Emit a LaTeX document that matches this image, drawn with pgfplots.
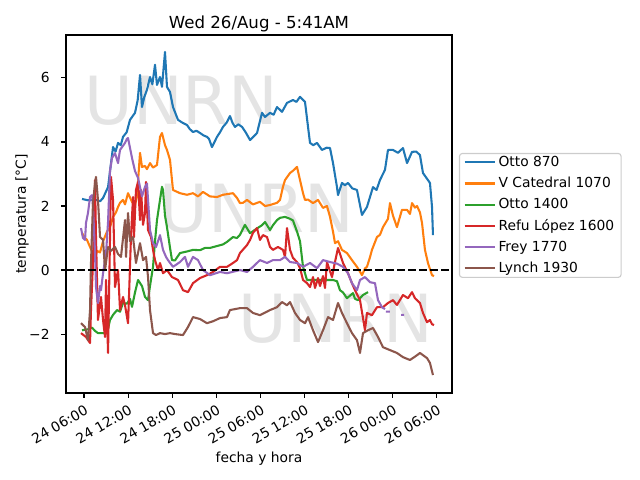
\documentclass[border=0pt]{standalone}
\usepackage{fontspec}
\setmainfont{DejaVu Sans}
\usepackage{pgfplots}
\pgfplotsset{compat=1.18}
\definecolor{c0}{HTML}{1F77B4}
\definecolor{c1}{HTML}{FF7F0E}
\definecolor{c2}{HTML}{2CA02C}
\definecolor{c3}{HTML}{D62728}
\definecolor{c4}{HTML}{9467BD}
\definecolor{c5}{HTML}{8C564B}
\definecolor{wm}{RGB}{228,228,228}
\definecolor{lgframe}{RGB}{204,204,204}
\begin{document}
\begin{tikzpicture}
\begin{axis}[
  at={(47.52bp,62.64bp)}, anchor=south west,
  scale only axis, width=277.92bp, height=257.76bp,
  xmin=3.55, xmax=56.07, ymin=-3.84, ymax=7.34,
  set layers,
  axis line style={line width=0.8pt},
  tick align=outside, major tick length=3.5bp,
  xtick pos=left, ytick pos=left,
  tick style={black, line width=0.8pt},
  xtick={6,12,18,24,30,36,42,48,54},
  xticklabels={24 06:00,24 12:00,24 18:00,25 00:00,25 06:00,25 12:00,25 18:00,26 00:00,26 06:00},
  ytick={-2,0,2,4,6},
  yticklabels={−2,0,2,4,6},
  ticklabel style={font=\fontsize{10}{12}\selectfont},
  xticklabel style={xshift=0bp, yshift=-4.5bp, rotate=30, anchor=north east, inner sep=0pt},
  yticklabel style={xshift=-8.1bp, anchor=east, inner sep=0pt},
  every axis title shift=0pt,
  title={Wed 26/Aug - 5:41AM},
  title style={at={(axis description cs:0.5,1)}, anchor=base, yshift=4.4bp, font=\fontsize{12}{14}\selectfont},
  xlabel={fecha y hora},
  xlabel style={at={(axis description cs:0.5,0)}, anchor=base, yshift=-49.7bp, font=\fontsize{10}{12}\selectfont},
  ylabel={temperatura [°C]},
  ylabel style={at={(axis description cs:-0.1038,0.5)}, anchor=base, font=\fontsize{10}{12}\selectfont},
  legend style={at={(1.018,0.496)}, anchor=west, draw=lgframe, line width=0.8pt, rounded corners=2pt,
    font=\fontsize{10}{12}\selectfont, inner xsep=3bp, inner ysep=0bp, row sep=2.2bp},
  legend cell align=left,
  legend image code/.code={\draw[#1, line width=1.5pt] (0bp,0bp) -- (21.6bp,0bp);},
  every axis plot/.append style={line width=1.5pt, line join=round},
]
\pgfplotsextra{%
\begin{pgfonlayer}{axis background}
\node[anchor=base, text=wm, font=\fontsize{48}{48}\selectfont] at (axis cs:19.27,4.53) {UNRN};
\node[anchor=base, text=wm, font=\fontsize{48}{48}\selectfont] at (axis cs:29.54,1.16) {UNRN};
\node[anchor=base, text=wm, font=\fontsize{48}{48}\selectfont] at (axis cs:40.29,-2.25) {UNRN};
\end{pgfonlayer}}

% Otto 870
\addplot[c0] coordinates {
(5.73,2.22) (6.5,2.18) (7.50,2.20) (8.2,2.15) (8.59,2.25) (9.27,2.59) (9.6,3.2) (9.95,3.84) (10.3,3.7)
(10.63,3.97) (11.0,3.9) (11.31,4.16) (11.8,4.3) (12.26,4.69) (12.94,4.91) (13.3,5.3) (13.62,6.09) (13.89,5.09)
(14.2,5.4) (14.57,5.63) (14.98,6.03) (15.3,5.8) (15.66,6.41) (15.93,5.78) (16.34,6.03)
(16.61,5.72) (17.02,6.81) (17.29,5.72) (17.70,5.56) (18.11,5.09) (18.79,4.69) (19.4,4.6)
(20.01,4.53) (20.4,4.4) (20.83,4.31) (21.3,4.35) (21.78,4.28) (22.3,4.2) (22.73,4.16) (23.0,4.1) (23.41,3.84) (24.10,4.16)
(24.5,4.3) (24.91,4.47) (25.4,4.6) (25.86,4.81) (26.2,4.6) (26.54,4.47) (27.0,4.55) (27.50,4.47) (28.0,4.3) (28.59,4.06) (29.0,4.15) (29.54,4.28)
(30.22,4.91) (30.63,4.78) (31.31,4.91) (31.8,4.85) (32.26,5.09) (32.94,4.94) (33.62,5.22)
(34.44,5.31) (34.9,5.25) (35.39,5.41) (36.07,5.25) (36.48,4.47) (36.75,3.97) (37.2,3.9) (37.70,3.97)
(38.38,3.75) (39.0,3.82) (39.47,3.81) (39.88,3.34) (40.42,2.59) (40.56,2.34) (41.10,2.72)
(41.5,2.65) (41.92,2.72) (42.5,2.55) (43.14,2.50) (43.55,2.03) (43.82,1.72) (44.50,1.97) (45.32,2.59)
(45.8,2.5) (46.27,2.81) (46.95,3.13) (47.36,3.75) (48.04,3.75) (48.72,3.66) (49.40,3.81)
(49.95,3.34) (50.63,3.69) (51.2,3.7) (51.71,3.59) (52.12,3.03) (53.07,2.72) (53.35,1.97) (53.48,1.09)
};
\addlegendentry{Otto 870}

% V Catedral 1070
\addplot[c1] coordinates {
(5.73,1.16) (6.14,1.0) (6.41,0.94) (6.82,0.72) (7.22,0.53) (7.50,0.35) (7.77,0.60) (8.18,0.55)
(8.59,0.9) (9.13,1.2) (9.54,1.34) (9.95,1.66) (10.35,1.8) (10.63,1.97) (10.90,2.1) (11.31,2.19)
(11.58,2.05) (11.99,2.40) (12.53,2.13) (12.94,2.03) (13.21,2.3) (13.62,3.66) (13.89,3.22)
(14.30,3.25) (14.57,3.15) (14.98,3.34) (15.39,3.2) (15.93,3.28) (16.34,4.16) (16.61,4.28)
(17.02,3.9) (17.29,3.75) (17.70,3.44) (17.97,2.81) (18.11,2.5) (19.06,2.40) (20.01,2.35)
(20.83,2.40) (21.51,2.30) (22.19,2.44) (23.14,2.30) (24.10,2.28) (24.91,2.35) (26.27,2.40)
(26.82,2.25) (27.22,2.09) (27.63,2.1) (28.18,2.19) (28.99,2.05) (29.94,2.13) (30.63,2.0)
(31.31,2.03) (32.26,2.1) (32.67,2.19) (33.07,2.6) (33.35,2.81) (34.03,3.03) (34.43,3.1)
(34.98,3.22) (35.39,2.81) (35.80,2.4) (36.07,2.19) (36.48,2.2) (37.16,2.09) (37.84,2.19)
(38.52,1.94) (39.06,2.0) (39.47,1.66) (39.88,1.2) (40.15,0.84) (40.56,0.9) (41.10,0.63)
(41.78,0.53) (42.46,0.31) (43.14,0.1) (43.55,-0.05) (43.82,-0.16) (44.23,0.05) (44.50,0.1)
(44.91,0.4) (45.18,0.63) (45.86,1.03) (46.27,1.1) (46.68,1.34) (47.36,1.6) (47.63,2.09)
(48.04,1.7) (48.58,1.34) (49.26,1.88) (49.95,1.88) (50.35,1.75) (50.63,2.09) (51.03,1.95)
(51.31,2.0) (51.71,1.8) (51.99,1.47) (52.39,0.63) (52.80,0.22) (53.35,-0.16) (53.62,-0.19)
};
\addlegendentry{V Catedral 1070}

% Otto 1400
\addplot[c2] coordinates {
(5.73,-1.88) (6.54,-1.85) (7.09,-1.8) (7.50,-1.9) (7.90,-1.97) (8.59,-1.97) (9.13,-1.97)
(9.54,-1.56) (9.95,-1.4) (10.49,-1.25) (10.90,-1.3) (11.31,-1.03) (11.85,-1.05) (12.26,-0.9)
(12.53,-1.15) (12.94,-0.7) (13.35,-0.31) (13.89,-0.5) (14.30,-0.84) (14.71,-0.94) (14.98,-0.5)
(15.39,0.1) (15.66,0.9) (15.93,1.56) (16.34,2.19) (16.61,2.6) (16.75,2.5) (17.02,1.7)
(17.29,1.34) (17.70,0.7) (17.97,0.31) (18.38,0.3) (19.06,0.53) (20.01,0.58) (20.83,0.63)
(21.78,0.62) (22.46,0.69) (23.14,0.69) (24.10,0.75) (24.91,0.8) (25.46,0.88) (26.27,1.03)
(26.82,1.0) (27.22,1.1) (27.90,1.41) (28.59,1.15) (29.54,1.3) (30.22,1.4) (30.63,1.5)
(31.31,1.25) (31.71,1.4) (32.26,1.56) (32.67,1.63) (33.35,1.66) (34.03,1.6) (34.43,1.55)
(34.98,1.2) (35.39,0.9) (35.80,0.1) (36.34,-0.31) (37.16,-0.31) (38.11,-0.31) (39.06,-0.31)
(39.88,-0.31) (40.42,-0.35) (40.83,-0.63) (41.24,-0.7) (41.78,-0.88) (42.19,-0.8) (42.60,-0.72)
(42.87,-0.9) (43.28,-0.94) (43.96,-0.78) (44.64,-0.69)
};
\addlegendentry{Otto 1400}

% Refu Lopez 1600
\addplot[c3] coordinates {
(5.59,-1.97) (6.27,-2.09) (6.82,-2.28) (6.95,-1.25) (7.22,0.22) (7.50,2.81) (7.63,1.03)
(7.90,-1.56) (8.31,-0.84) (8.59,-1.56) (8.86,-2.09) (9.0,-0.31) (9.27,-2.59) (9.54,1.03)
(9.67,2.91) (9.95,2.19) (10.22,-0.53) (10.63,0) (10.90,-1.25) (11.31,-0.84) (11.58,-1.1)
(11.99,-1.66) (12.12,-0.84) (12.39,1.03) (12.67,2.28) (12.80,1.03) (13.07,2.5) (13.35,2.75)
(13.62,1.56) (13.76,2.5) (14.03,1.41) (14.30,1.78) (14.44,2.75) (14.71,1.25) (15.12,1.03)
(15.39,0.63) (15.66,0.31) (16.07,0) (16.34,0.22) (16.75,-0.1) (17.29,0) (17.97,-0.22)
(18.79,-0.31) (19.47,-0.63) (20.15,-0.69) (20.83,-0.41) (21.78,-0.25) (22.73,-0.16)
(23.55,-0.06) (24.50,0.1) (25.46,0.1) (26.27,0.22) (26.82,0.31) (27.22,0.53) (28.18,0.78)
(28.59,0.94) (28.99,1.16) (29.54,1.31) (29.94,0.94) (30.35,1.09) (30.90,1.03) (31.31,0.72)
(31.71,0.63) (32.39,0.72) (33.07,0.63) (33.35,0.41) (33.62,1.31) (34.03,0.63) (34.43,0.38)
(34.98,0.25) (35.39,0.06) (35.80,-0.31) (36.34,-0.41) (36.75,-0.53) (37.16,-0.22) (37.43,-0.56)
(37.84,-0.25) (38.11,-0.5) (38.52,-0.19) (38.79,-0.56) (39.06,0.25) (39.74,-0.22) (40.15,0.25)
(40.56,0.69) (41.24,0.22) (41.92,-0.1) (42.46,-0.41) (42.87,-0.63) (43.55,-0.94) (43.96,-1.5)
(44.23,-1.88) (44.50,-1.34) (45.18,-1.41) (45.86,-1.16) (46.68,-1.16) (47.36,-1.03)
(48.04,-0.94) (48.58,-1.09) (49.40,-0.78) (50.08,-0.88) (50.63,-0.69) (51.03,-0.88)
(51.71,-1.03) (52.12,-1.34) (52.67,-1.63) (53.07,-1.56) (53.35,-1.69) (53.62,-1.72)
};
\addlegendentry{Refu López 1600}

% Frey 1770
\addplot[c4, unbounded coords=jump] coordinates {
(5.59,1.31) (5.86,1.0) (6.14,0.94) (6.27,1.47) (6.54,1.78) (6.82,2.28) (7.09,2.34) (7.22,2.0)
(7.50,0.53) (7.63,-0.53) (7.90,-1.03) (8.18,-0.5) (8.31,-0.63) (8.59,-0.1) (9.0,0.53)
(9.27,1.5) (9.54,3.1) (9.81,3.5) (10.22,3.65) (10.63,3.34) (10.90,3.75) (11.58,3.97)
(11.85,4.1) (11.99,4.12) (12.53,3.5) (12.94,3.09) (13.35,2.88) (13.89,2.3) (14.30,2.6)
(14.57,2.7) (14.98,1.25) (15.39,0.84) (15.80,0.72) (16.34,1.09) (16.75,0.63) (17.16,0.41)
(17.43,0.31) (18.11,0.1) (19.06,0.25) (19.74,0.41) (20.15,0.1) (20.83,0.41) (21.51,0.31)
(22.19,0.0) (23.14,-0.16) (24.50,-0.06) (25.46,-0.1) (27.22,0.0) (28.18,-0.06) (28.99,0.1)
(29.94,0.31) (30.90,0.22) (31.71,0.31) (32.67,0.31) (33.35,0.41) (34.03,0.25) (34.98,0.22)
(35.80,0.1) (36.75,0.22) (37.70,0.06) (38.52,0.31) (39.47,0.25) (40.42,0.2) (41.24,0.1)
(41.92,-0.1) (42.46,-0.41) (43.14,-0.63) (43.55,-0.31) (44.23,-0.22) (44.91,-0.38)
(45.59,-0.41) (46.00,-0.94) (46.54,-1.16) (46.95,-1.22) (47.0,nan) (47.08,-1.3) (47.63,-1.3)
(48.5,nan) (49.13,-1.4) (49.54,-1.4)
};
\addlegendentry{Frey 1770}

% Lynch 1930
\addplot[c5] coordinates {
(5.59,-1.66) (6.14,-1.78) (6.54,-2.19) (6.82,-1.25) (6.95,0.22) (7.22,2.09) (7.50,2.72)
(7.63,2.91) (7.90,2.19) (8.18,1.03) (8.59,0.94) (8.86,0.0) (9.27,0.72) (9.67,0.6) (10.22,0.72)
(10.63,0.5) (11.03,0.41) (11.58,1.56) (11.72,0.41) (11.99,1.78) (12.26,0.9) (12.67,1.03)
(13.07,0.22) (13.62,0.84) (14.03,0.31) (14.44,0.41) (14.71,-0.22) (14.98,-1.25) (15.39,-1.97)
(15.80,-2.03) (16.34,-1.97) (17.02,-2.0) (17.70,-1.97) (18.38,-2.0) (19.47,-2.03) (20.15,-1.78)
(20.83,-1.47) (21.78,-1.53) (22.73,-1.66) (23.55,-1.6) (24.50,-1.5) (25.46,-1.47) (25.86,-1.25)
(27.22,-1.19) (28.18,-1.19) (28.99,-1.34) (29.94,-1.41) (31.31,-1.25) (32.26,-1.16) (32.94,-1.0)
(33.62,-1.1) (34.03,-1.0) (34.71,-1.34) (35.39,-1.56) (36.07,-1.66) (36.48,-1.47) (37.16,-1.88)
(37.84,-2.25) (38.52,-1.88) (39.20,-1.47) (39.88,-1.56) (40.56,-1.03) (41.10,-1.34) (41.78,-1.66)
(42.46,-1.97) (43.14,-2.19) (43.55,-2.59) (43.96,-1.97) (44.64,-1.88) (45.32,-1.81) (46.00,-2.09)
(46.68,-2.41) (47.63,-2.5) (48.58,-2.59) (49.40,-2.72) (50.35,-2.81) (51.31,-2.66) (51.71,-2.59)
(52.67,-2.75) (53.07,-2.9) (53.48,-3.28)
};
\addlegendentry{Lynch 1930}

\addplot[black, line width=1.5pt, dash pattern=on 5.55bp off 2.4bp, forget plot] coordinates {(3.55,0) (56.07,0)};
\end{axis}
\path[use as bounding box] (0,0) rectangle (460.8bp,345.6bp);
\end{tikzpicture}
\end{document}
